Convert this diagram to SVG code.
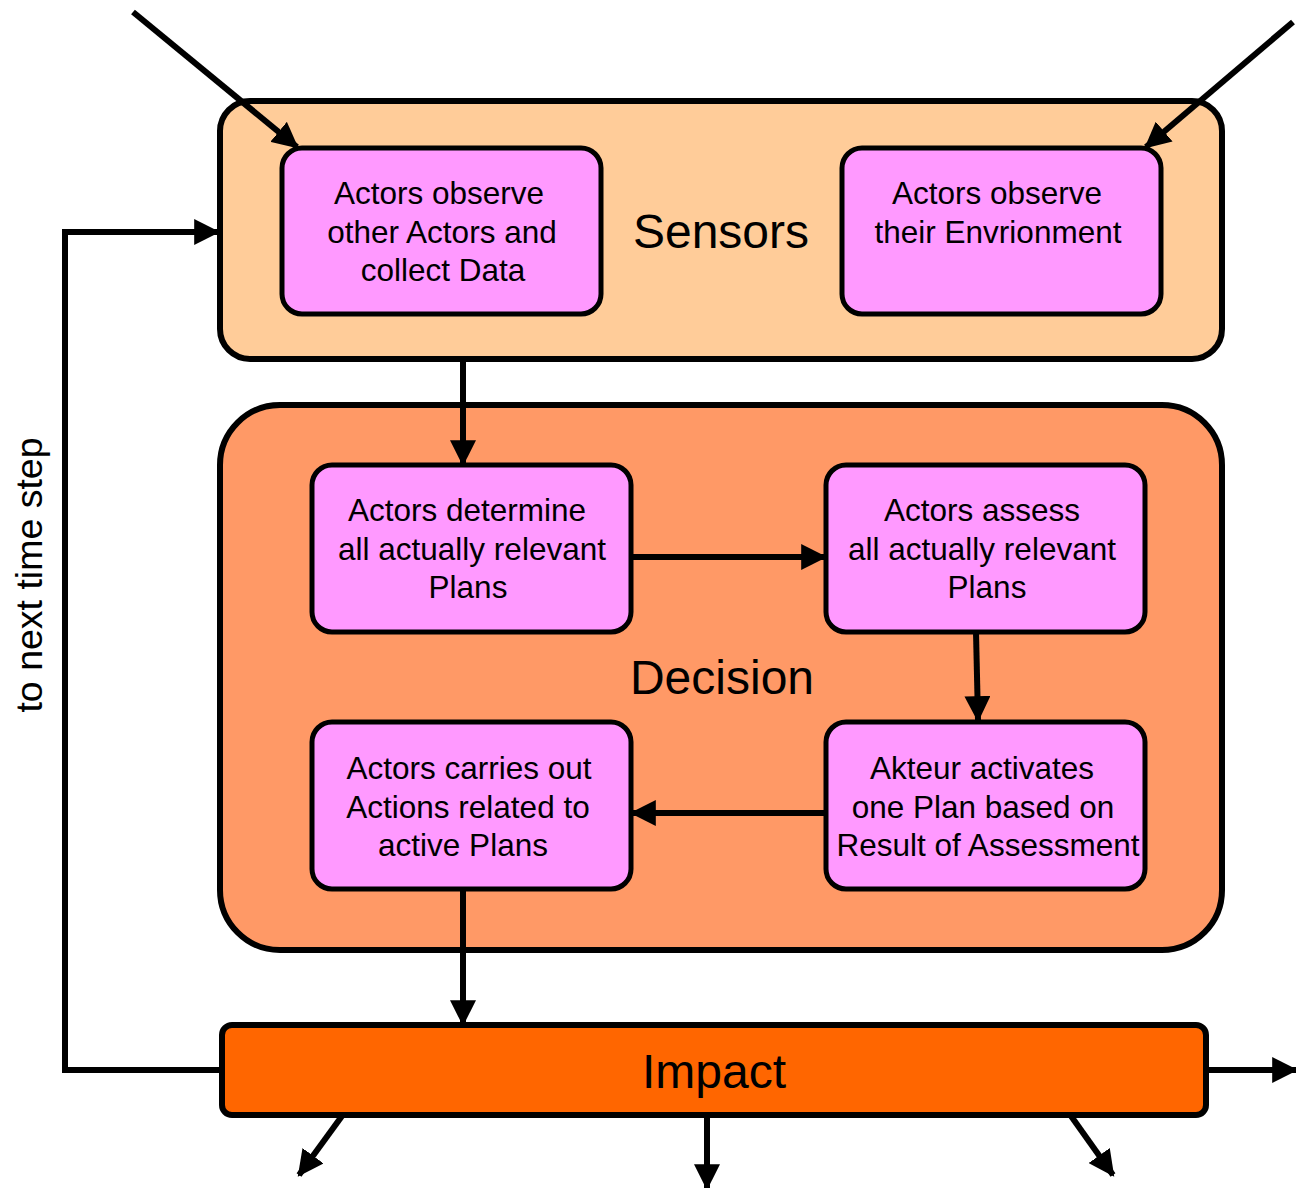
<svg xmlns="http://www.w3.org/2000/svg" width="1296" height="1188" viewBox="0 0 1296 1188">
  <style>
    .frame { stroke: #000; stroke-width: 6; }
    .step { fill: #FF99FF; stroke: #000; stroke-width: 5; }
    .txt { font-family: "Liberation Sans", Arial, sans-serif; font-size: 31.5px; fill: #000; text-anchor: middle; }
    .big { font-family: "Liberation Sans", Arial, sans-serif; font-size: 48px; fill: #000; text-anchor: middle; }
    .wire { fill: none; stroke: #000; stroke-width: 6; marker-end: url(#head); }
  </style>
  <defs>
    <marker id="head" markerUnits="userSpaceOnUse" markerWidth="26" markerHeight="26" viewBox="0 0 24 24" refX="22" refY="12" orient="auto">
      <path d="M0,0 L24,12 L0,24 z" fill="#000"/>
    </marker>
  </defs>

  <rect width="1296" height="1188" fill="#fff"/>

  <!-- Sensors layer -->
  <g id="sensors">
    <rect class="frame" x="220" y="101" width="1002" height="258" rx="30" fill="#FFCC99"/>
    <text class="big" x="721" y="248">Sensors</text>
  </g>
  <g id="observe-actors">
    <rect class="step" x="282" y="148" width="319" height="166" rx="20"/>
    <text class="txt" x="439" y="204">Actors observe</text>
    <text class="txt" x="442" y="243">other Actors and</text>
    <text class="txt" x="443" y="281">collect Data</text>
  </g>
  <g id="observe-environment">
    <rect class="step" x="842" y="148" width="319" height="166" rx="20"/>
    <text class="txt" x="997" y="204">Actors observe</text>
    <text class="txt" x="998" y="243">their Envrionment</text>
  </g>

  <!-- Decision layer -->
  <g id="decision">
    <rect class="frame" x="220" y="405" width="1002" height="545" rx="60" fill="#FF9966"/>
    <text class="big" x="722" y="694">Decision</text>
  </g>
  <g id="determine-plans">
    <rect class="step" x="312" y="465" width="319" height="167" rx="20"/>
    <text class="txt" x="467" y="521">Actors determine</text>
    <text class="txt" x="472" y="560">all actually relevant</text>
    <text class="txt" x="468" y="598">Plans</text>
  </g>
  <g id="assess-plans">
    <rect class="step" x="826" y="465" width="319" height="167" rx="20"/>
    <text class="txt" x="982" y="521">Actors assess</text>
    <text class="txt" x="982" y="560">all actually relevant</text>
    <text class="txt" x="987" y="598">Plans</text>
  </g>
  <g id="activate-plan">
    <rect class="step" x="826" y="722" width="319" height="167" rx="20"/>
    <text class="txt" x="982" y="779">Akteur activates</text>
    <text class="txt" x="983" y="818">one Plan based on</text>
    <text class="txt" x="988" y="856">Result of Assessment</text>
  </g>
  <g id="carry-out">
    <rect class="step" x="312" y="722" width="319" height="167" rx="20"/>
    <text class="txt" x="469" y="779">Actors carries out</text>
    <text class="txt" x="468" y="818">Actions related to</text>
    <text class="txt" x="463" y="856">active Plans</text>
  </g>

  <!-- Impact layer -->
  <g id="impact">
    <rect class="frame" x="222" y="1025" width="984" height="90" rx="10" fill="#FF6600"/>
    <text class="big" x="714" y="1088">Impact</text>
  </g>

  <!-- Connectors -->
  <g id="connectors">
    <line class="wire" x1="133" y1="12" x2="297" y2="147"/>
    <line class="wire" x1="1293" y1="22" x2="1146" y2="147"/>
    <line class="wire" x1="463" y1="359" x2="463" y2="464"/>
    <line class="wire" x1="631" y1="557" x2="825" y2="557"/>
    <line class="wire" x1="976" y1="632" x2="978" y2="720"/>
    <line class="wire" x1="826" y1="813" x2="632" y2="813"/>
    <line class="wire" x1="463" y1="889" x2="463" y2="1024"/>
    <polyline class="wire" points="220,1070 65,1070 65,232 218,232"/>
    <line class="wire" x1="1206" y1="1070" x2="1296" y2="1070"/>
    <line class="wire" x1="342" y1="1116" x2="299" y2="1175"/>
    <line class="wire" x1="707" y1="1116" x2="707" y2="1188"/>
    <line class="wire" x1="1071" y1="1116" x2="1113" y2="1175"/>
  </g>

  <text class="txt" style="font-size:37.5px" transform="translate(42,575) rotate(-90)" x="0" y="0">to next time step</text>
</svg>
